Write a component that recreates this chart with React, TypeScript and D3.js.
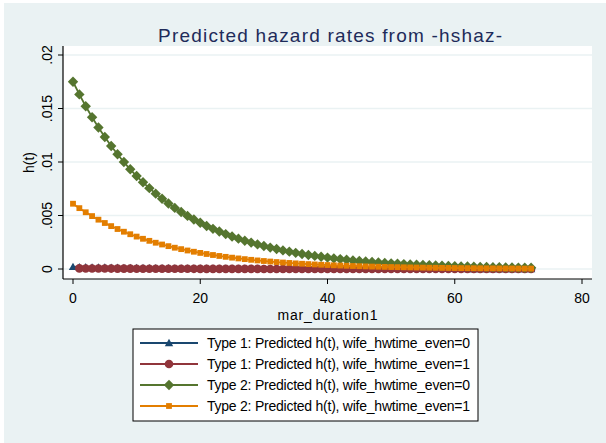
import React from "react";
import * as d3 from "d3";

const times: number[] = Array.from({ length: 73 }, (_, i) => i);

const type1Wife0: number[] = [
  0.00019, 0.000177, 0.000165, 0.000154, 0.000144, 0.000134, 0.000125, 0.000116, 0.000109, 0.000101,
  0.000094, 0.000088, 0.000082, 0.000076, 0.000071, 0.000066, 0.000062, 0.000058, 0.000054, 0.00005,
  0.000047, 0.000044, 0.000041, 0.000038, 0.000035, 0.000033, 0.000031, 0.000029, 0.000027, 0.000025,
  0.000023, 0.000022, 0.00002, 0.000019, 0.000018, 0.000016, 0.000015, 0.000014, 0.000013, 0.000012,
  0.000012, 0.000011, 0.00001, 0.000009, 0.000009, 0.000008, 0.000008, 0.000007, 0.000007, 0.000006,
  0.000006, 0.000005, 0.000005, 0.000005, 0.000004, 0.000004, 0.000004, 0.000004, 0.000003, 0.000003,
  0.000003, 0.000003, 0.000002, 0.000002, 0.000002, 0.000002, 0.000002, 0.000002, 0.000002, 0.000002,
  0.000001, 0.000001, 0.000001,
];

const type1Wife1: (number | null)[] = [
  null, 0.000056, 0.000052, 0.000049, 0.000045, 0.000042, 0.000039, 0.000037, 0.000034, 0.000032,
  0.00003, 0.000028, 0.000026, 0.000024, 0.000023, 0.000021, 0.00002, 0.000018, 0.000017, 0.000016,
  0.000015, 0.000014, 0.000013, 0.000012, 0.000011, 0.00001, 0.00001, 0.000009, 0.000008, 0.000008,
  0.000007, 0.000007, 0.000006, 0.000006, 0.000006, 0.000005, 0.000005, 0.000005, 0.000004, 0.000004,
  0.000004, 0.000003, 0.000003, 0.000003, 0.000003, 0.000003, 0.000002, 0.000002, 0.000002, 0.000002,
  0.000002, 0.000002, 0.000002, 0.000001, 0.000001, 0.000001, 0.000001, 0.000001, 0.000001, 0.000001,
  0.000001, 0.000001, 0.000001, 0.000001, 0.000001, 0.000001, 0.000001, 0.000001, 0.000001, 0.000001,
  0.000001, 0.000001, 0.000001,
];

const type2Wife0: number[] = [
  0.0175, 0.016317, 0.015214, 0.014185, 0.013226, 0.012332, 0.011498, 0.010721, 0.009996, 0.00932,
  0.00869, 0.008103, 0.007555, 0.007044, 0.006568, 0.006124, 0.00571, 0.005324, 0.004964, 0.004628,
  0.004316, 0.004024, 0.003752, 0.003498, 0.003261, 0.003041, 0.002836, 0.002644, 0.002465, 0.002298,
  0.002143, 0.001998, 0.001863, 0.001737, 0.00162, 0.00151, 0.001408, 0.001313, 0.001224, 0.001141,
  0.001064, 0.000992, 0.000925, 0.000863, 0.000804, 0.00075, 0.000699, 0.000652, 0.000608, 0.000567,
  0.000529, 0.000493, 0.000459, 0.000428, 0.000399, 0.000372, 0.000347, 0.000324, 0.000302, 0.000281,
  0.000263, 0.000245, 0.000228, 0.000213, 0.000198, 0.000185, 0.000172, 0.000161, 0.00015, 0.00014,
  0.00013, 0.000121, 0.000113,
];

const type2Wife1: number[] = [
  0.0061, 0.005688, 0.005303, 0.004945, 0.00461, 0.004299, 0.004008, 0.003737, 0.003484, 0.003249,
  0.003029, 0.002824, 0.002633, 0.002455, 0.002289, 0.002135, 0.00199, 0.001856, 0.00173, 0.001613,
  0.001504, 0.001403, 0.001308, 0.001219, 0.001137, 0.00106, 0.000988, 0.000922, 0.000859, 0.000801,
  0.000747, 0.000697, 0.000649, 0.000605, 0.000565, 0.000526, 0.000491, 0.000458, 0.000427, 0.000398,
  0.000371, 0.000346, 0.000323, 0.000301, 0.00028, 0.000261, 0.000244, 0.000227, 0.000212, 0.000198,
  0.000184, 0.000172, 0.00016, 0.000149, 0.000139, 0.00013, 0.000121, 0.000113, 0.000105, 0.000098,
  0.000092, 0.000085, 0.00008, 0.000074, 0.000069, 0.000064, 0.00006, 0.000056, 0.000052, 0.000049,
  0.000045, 0.000042, 0.000039,
];

const seriesLabels: string[] = [
  "Type 1: Predicted h(t), wife_hwtime_even=0",
  "Type 1: Predicted h(t), wife_hwtime_even=1",
  "Type 2: Predicted h(t), wife_hwtime_even=0",
  "Type 2: Predicted h(t), wife_hwtime_even=1",
];
const seriesColors: string[] = ["#1a476f", "#90353b", "#55752f", "#e37e00"];
const seriesMarkers: string[] = ["triangle", "circle", "diamond", "square"];

const yTicks: number[] = [0, 0.005, 0.01, 0.015, 0.02];
const yTickLabels: string[] = ["0", ".005", ".01", ".015", ".02"];
const xTicks: number[] = [0, 20, 40, 60, 80];

const titleText = "Predicted hazard rates from -hshaz-";
const xTitle = "mar_duration1";
const yTitle = "h(t)";

const W = 606;
const H = 443;
const plotLeft = 63;
const plotRight = 592;
const plotTop = 46;
const plotBottom = 279;

const FONT = "'Liberation Sans', Arial, sans-serif";

function Marker({ type, x, y, color }: { type: string; x: number; y: number; color: string }) {
  if (type === "triangle") {
    const s = 4.2;
    return <path d={`M${x},${y - s}L${x + s},${y + s * 0.75}L${x - s},${y + s * 0.75}Z`} fill={color} />;
  }
  if (type === "circle") {
    return <circle cx={x} cy={y} r={4.3} fill={color} />;
  }
  if (type === "diamond") {
    const s = 5.2;
    return <path d={`M${x},${y - s}L${x + s},${y}L${x},${y + s}L${x - s},${y}Z`} fill={color} />;
  }
  const s = 2.9;
  return <rect x={x - s} y={y - s} width={s * 2} height={s * 2} fill={color} />;
}

export default function App() {
  const x = d3.scaleLinear().domain([0, 80]).range([73, 582]);
  const y = d3.scaleLinear().domain([0, 0.02]).range([269, 55]);

  const allSeries: (number | null)[][] = [type1Wife0, type1Wife1, type2Wife0, type2Wife1];

  const line = d3
    .line<[number, number | null]>()
    .defined((d) => d[1] !== null)
    .x((d) => x(d[0]))
    .y((d) => y(d[1] as number));

  const legendX = 133;
  const legendY = 329;
  const legendW = 345;
  const legendH = 92;
  const rowY = [343, 364, 385, 406];

  return (
    <svg
      width={W}
      height={H}
      style={{ position: "absolute", left: 0, top: 0, fontFamily: FONT }}
    >
      <rect x={0} y={0} width={W} height={H} fill="#ffffff" />
      <rect x={4} y={3} width={W - 4} height={H - 3} fill="#eaf2f3" />
      <rect x={plotLeft} y={plotTop} width={plotRight - plotLeft} height={plotBottom - plotTop} fill="#ffffff" />

      {yTicks.map((t) => (
        <line key={"g" + t} x1={plotLeft} x2={plotRight} y1={y(t)} y2={y(t)} stroke="#eaf2f3" strokeWidth={1.6} />
      ))}

      {allSeries.map((vals, si) => {
        const pts: [number, number | null][] = times.map((t, i) => [t, vals[i]]);
        return (
          <g key={"s" + si}>
            <path d={line(pts) || ""} fill="none" stroke={seriesColors[si]} strokeWidth={1.8} />
            {pts
              .filter((p) => p[1] !== null)
              .map((p, i) => (
                <Marker key={i} type={seriesMarkers[si]} x={x(p[0])} y={y(p[1] as number)} color={seriesColors[si]} />
              ))}
          </g>
        );
      })}

      <line x1={plotLeft} x2={plotLeft} y1={plotTop} y2={plotBottom} stroke="#000" strokeWidth={1.2} />
      <line x1={plotLeft} x2={plotRight} y1={plotBottom} y2={plotBottom} stroke="#000" strokeWidth={1.2} />
      {yTicks.map((t, i) => (
        <g key={"yt" + t}>
          <line x1={plotLeft - 5} x2={plotLeft} y1={y(t)} y2={y(t)} stroke="#000" strokeWidth={1} />
          <text
            transform={`translate(51.5,${y(t)}) rotate(-90)`}
            textAnchor="middle"
            fontSize={14}
            fill="#000"
          >
            {yTickLabels[i]}
          </text>
        </g>
      ))}
      {xTicks.map((t) => (
        <g key={"xt" + t}>
          <line x1={x(t)} x2={x(t)} y1={plotBottom} y2={plotBottom + 5} stroke="#000" strokeWidth={1} />
          <text x={x(t)} y={303} textAnchor="middle" fontSize={14} fill="#000">
            {t}
          </text>
        </g>
      ))}

      <text x={(plotLeft + plotRight) / 2} y={320} textAnchor="middle" fontSize={14} fill="#000" textLength={100} lengthAdjust="spacing">
        {xTitle}
      </text>
      <text transform={`translate(34,${(plotTop + plotBottom) / 2}) rotate(-90)`} textAnchor="middle" fontSize={14} fill="#000">
        {yTitle}
      </text>

      <text x={330} y={42} textAnchor="middle" fontSize={19} fill="#1e2b5a" textLength={344} lengthAdjust="spacing">
        {titleText}
      </text>

      <rect x={legendX} y={legendY} width={legendW} height={legendH} fill="#ffffff" stroke="#000" strokeWidth={1} />
      {seriesLabels.map((lab, i) => (
        <g key={"l" + i}>
          <line x1={140} x2={198} y1={rowY[i]} y2={rowY[i]} stroke={seriesColors[i]} strokeWidth={1.8} />
          <Marker type={seriesMarkers[i]} x={169} y={rowY[i]} color={seriesColors[i]} />
          <text x={207} y={rowY[i] + 5} fontSize={14} fill="#000" textLength={263} lengthAdjust="spacing">
            {lab}
          </text>
        </g>
      ))}
    </svg>
  );
}
